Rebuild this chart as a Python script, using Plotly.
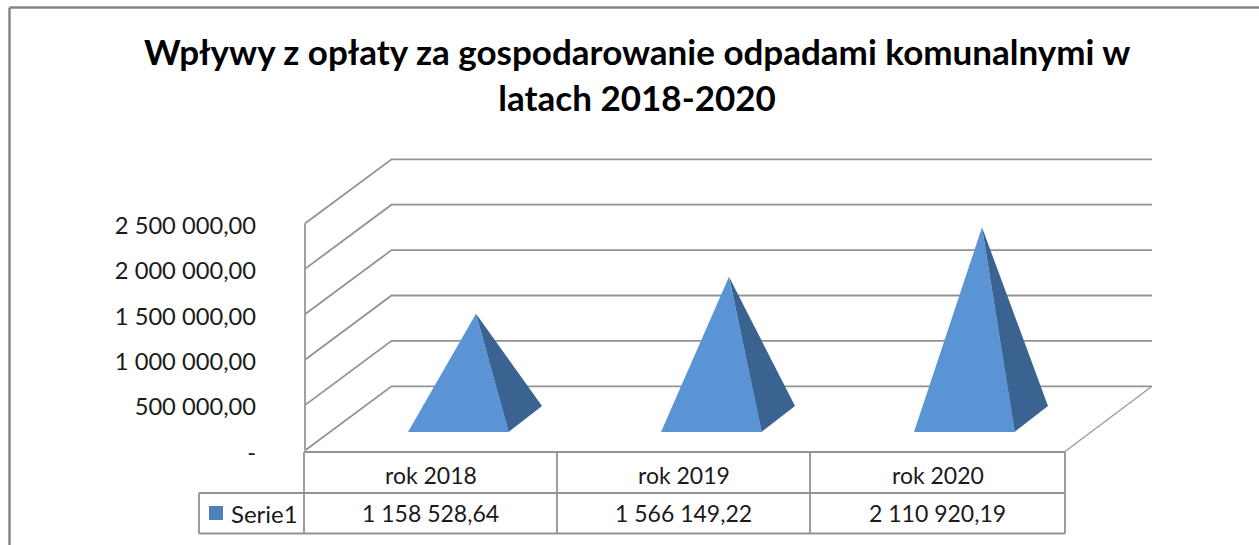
import plotly.graph_objects as go

categories = ["rok 2018", "rok 2019", "rok 2020"]
values = [1158528.64, 1566149.22, 2110920.19]
value_labels = ["1 158 528,64", "1 566 149,22", "2 110 920,19"]
series_name = "Serie1"
tick_vals = [0, 500000, 1000000, 1500000, 2000000, 2500000]
tick_text = ["-", "500 000,00", "1 000 000,00", "1 500 000,00", "2 000 000,00", "2 500 000,00"]
title_text = "Wpływy z opłaty za gospodarowanie odpadami komunalnymi w<br>latach 2018-2020"

W, H = 1259, 545
ZERO_PX = 450.5
PX_PER_UNIT = 45.4 / 500000


def yv(px):
    return (ZERO_PX - px) / PX_PER_UNIT


GRID = "#939393"
FRONT = "#5B94D5"
SIDE = "#3A6392"
TEXT = "#1a1a1a"
FONT = "Lato"

fig = go.Figure()


def line(xs, pys, color=GRID, width=1.8):
    fig.add_trace(go.Scatter(x=xs, y=[yv(p) for p in pys], mode="lines", hoverinfo="skip",
                             line=dict(color=color, width=width), showlegend=False, cliponaxis=False))


def poly(xs, pys, color):
    fig.add_trace(go.Scatter(x=xs, y=[yv(p) for p in pys], mode="lines", fill="toself", fillcolor=color,
                             line=dict(color=color, width=0), hoverinfo="skip", showlegend=False))


# chart frame (top and left only; the rest is cropped in the reference)
line([9.5, 9.5], [545, 7.5], "#868686", 2.5)
line([9.5, 1259], [7.5, 7.5], "#868686", 2.5)

# walls and gridlines
DX, DY = 86.5, 64.2
x_f, x_fr = 305, 1065
for v in tick_vals:
    p = ZERO_PX - v * PX_PER_UNIT
    line([x_f, x_f + DX, 1152], [p, p - DY, p - DY])
line([x_f, x_f], [ZERO_PX, ZERO_PX - tick_vals[-1] * PX_PER_UNIT], "#a0a0a0", 2)
line([x_fr, 1152], [ZERO_PX + 1, ZERO_PX - DY], "#9a9a9a", 1.4)

# pyramids
for i, val in enumerate(values):
    cx = 475 + 253 * i
    apex = 419 - val * PX_PER_UNIT
    poly([cx + 33.5, cx + 67, cx + 1, cx + 33.5], [432, 406, apex, 432], SIDE)
    poly([cx - 67, cx + 34, cx + 1, cx - 67], [432, 432, apex, 432], FRONT)

# data table
T0, T1, T2 = 452, 493, 533.5
cols = [304, 557, 810, 1065]
line([cols[0], cols[-1]], [T0, T0])
line([199, cols[-1]], [T1, T1])
line([199, cols[-1]], [T2, T2])
line([199, 199], [T1, T2])
for c in cols:
    line([c, c], [T0, T2])
fig.add_trace(go.Scatter(x=[216], y=[yv(513)], mode="markers", marker=dict(symbol="square", size=14, color="#4F81BD"),
                         hoverinfo="skip", showlegend=False))

annotations = [dict(x=229, y=yv(513), text=series_name, showarrow=False, xanchor="left", yanchor="middle",
                    font=dict(family=FONT, size=24, color=TEXT))]
for i in range(3):
    xc = (cols[i] + cols[i + 1]) / 2
    annotations.append(dict(x=xc, y=yv(475), text=categories[i], showarrow=False, xanchor="center", yanchor="middle",
                            font=dict(family=FONT, size=23, color=TEXT)))
    annotations.append(dict(x=xc, y=yv(513), text=value_labels[i], showarrow=False, xanchor="center", yanchor="middle",
                            font=dict(family=FONT, size=23, color=TEXT)))
annotations.append(dict(x=637, y=yv(74), text=title_text, showarrow=False, xanchor="center", yanchor="middle", align="center",
                        font=dict(family=FONT, size=35, color="#000000", weight="bold")))

fig.update_layout(
    width=W, height=H, margin=dict(l=0, r=0, t=0, b=0),
    paper_bgcolor="white", plot_bgcolor="white", showlegend=False,
    annotations=annotations,
    xaxis=dict(range=[0, W], visible=False, fixedrange=True),
    yaxis=dict(range=[yv(H), yv(0)], anchor="free", position=305 / W, tickmode="array",
               tickvals=tick_vals, ticktext=tick_text, showgrid=False, zeroline=False, showline=False,
               ticks="", ticklabelstandoff=49, ticklabelshift=2, fixedrange=True,
               tickfont=dict(family=FONT, size=23.7, color=TEXT)),
)
fig.write_html("out.html", config={"displayModeBar": False, "responsive": False},
               post_script="document.body.style.margin='0';document.documentElement.style.overflow='hidden';")
